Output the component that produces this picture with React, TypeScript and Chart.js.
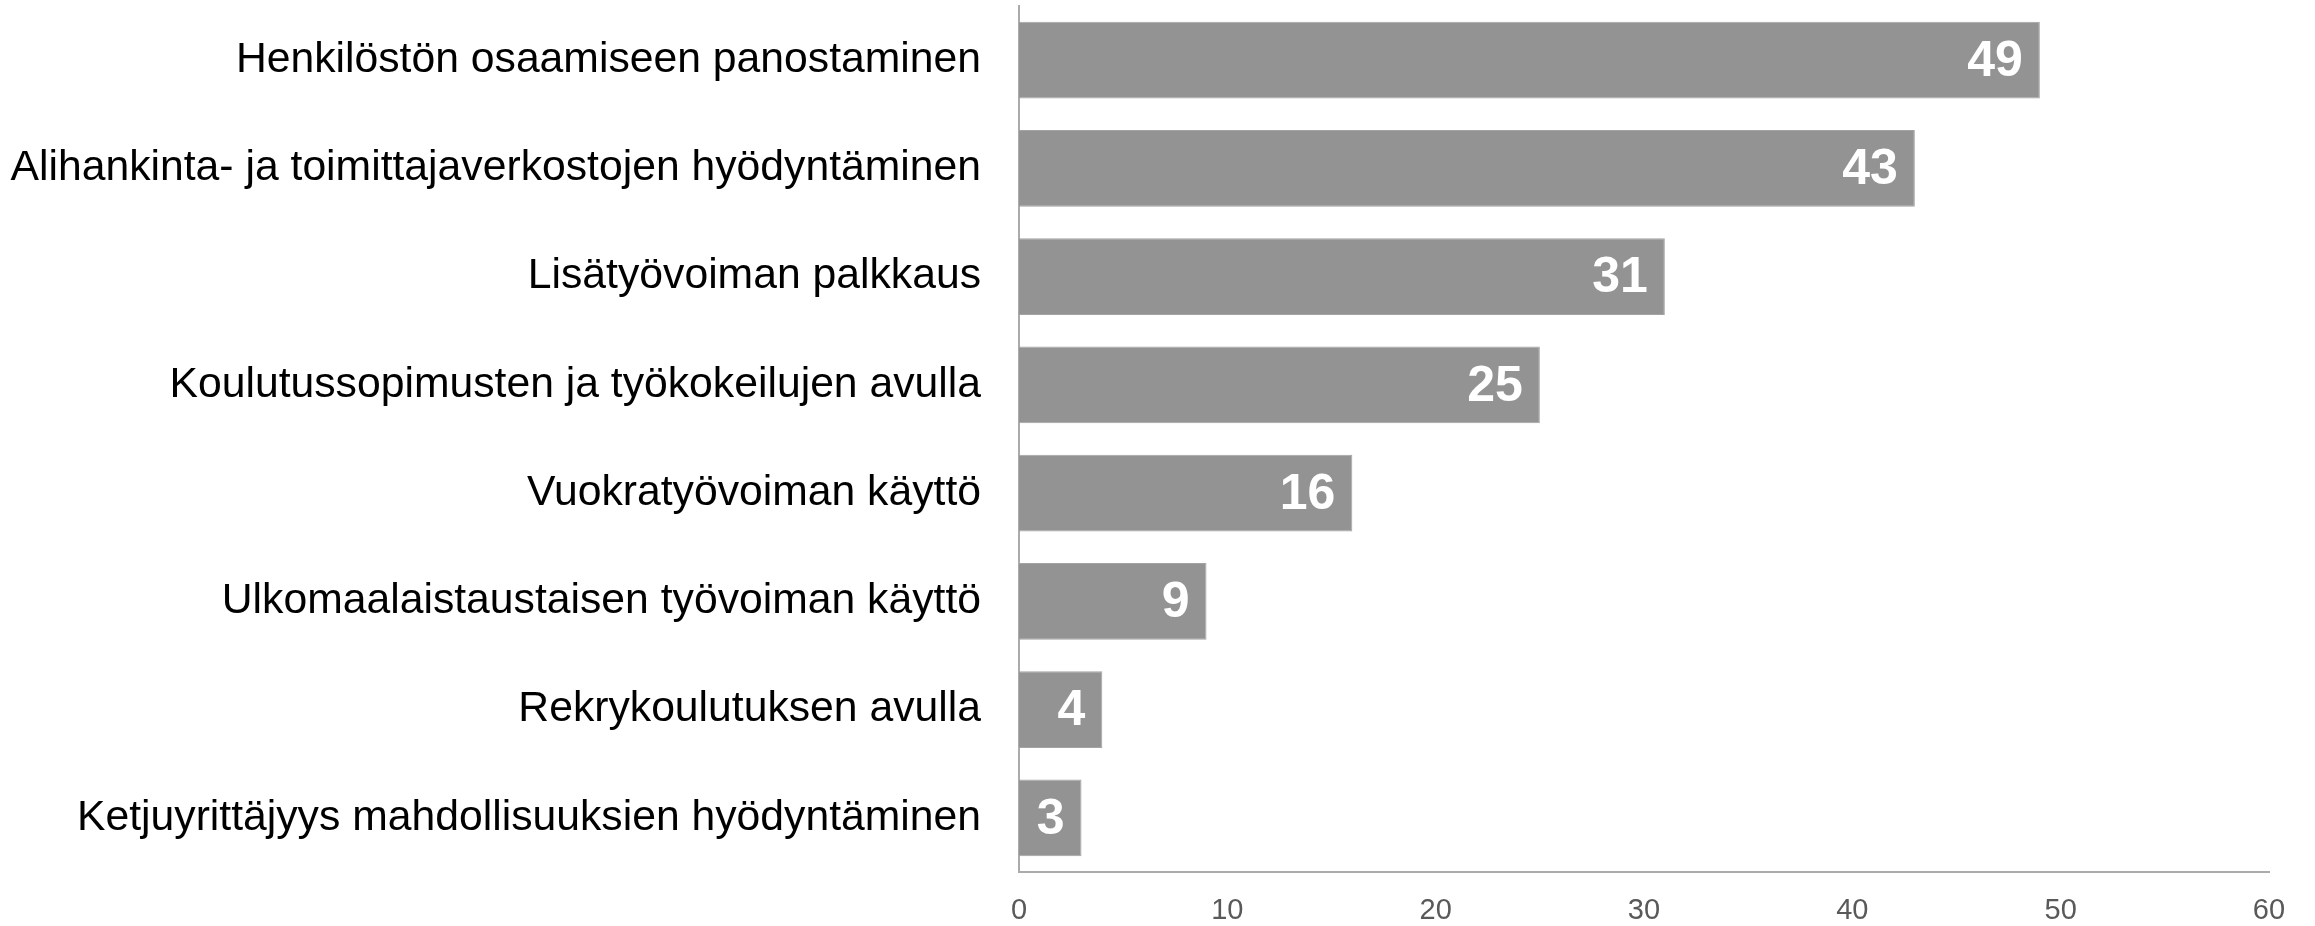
import React, { useEffect, useRef } from "react";
import { Chart, registerables } from "chart.js";

Chart.register(...registerables);

const categories = [
  "Henkilöstön osaamiseen panostaminen",
  "Alihankinta- ja toimittajaverkostojen hyödyntäminen",
  "Lisätyövoiman palkkaus",
  "Koulutussopimusten ja työkokeilujen avulla",
  "Vuokratyövoiman käyttö",
  "Ulkomaalaistaustaisen työvoiman käyttö",
  "Rekrykoulutuksen avulla",
  "Ketjuyrittäjyys mahdollisuuksien hyödyntäminen",
];
const values = [49, 43, 31, 25, 16, 9, 4, 3];
const xMin = 0;
const xMax = 60;
const xStep = 10;

const barLabels = {
  id: "barLabels",
  afterDatasetsDraw(chart: any) {
    const ctx = chart.ctx;
    const meta = chart.getDatasetMeta(0);
    ctx.save();
    ctx.fillStyle = "#ffffff";
    ctx.font = "bold 50px 'Liberation Sans', Arial, sans-serif";
    ctx.textAlign = "right";
    ctx.textBaseline = "middle";
    meta.data.forEach((bar: any, i: number) => {
      ctx.fillText(String(values[i]), bar.x - 17, bar.y + 2);
    });
    ctx.restore();
  },
};

export default function App() {
  const ref = useRef<HTMLCanvasElement>(null);
  useEffect(() => {
    if (!ref.current) return;
    const chart = new Chart(ref.current, {
      type: "bar",
      data: {
        labels: categories,
        datasets: [
          {
            data: values,
            backgroundColor: "#939393",
            borderColor: "#a3a3a3",
            borderWidth: 1,
            barPercentage: 0.707,
            categoryPercentage: 1,
          },
        ],
      },
      options: {
        indexAxis: "y",
        responsive: false,
        animation: false,
        layout: { padding: { top: 6, right: 46, left: 0, bottom: 0 } },
        plugins: { legend: { display: false }, tooltip: { enabled: false } },
        scales: {
          x: {
            min: xMin,
            max: xMax,
            ticks: {
              stepSize: xStep,
              color: "#595959",
              font: { family: "'Liberation Sans', Arial, sans-serif", size: 29 },
              padding: 22,
            },
            grid: { display: false, drawTicks: false },
            border: { display: true, color: "#ababab", width: 2 },
            afterFit: (s: any) => {
              s.height = 54;
              s.paddingLeft = 0;
              s.paddingRight = 0;
            },
          },
          y: {
            ticks: {
              color: "#000000",
              font: { family: "'Liberation Sans', Arial, sans-serif", size: 42.7 },
              padding: 38,
            },
            grid: { display: false, drawTicks: false },
            border: { display: true, color: "#ababab", width: 2 },
            afterFit: (s: any) => {
              s.width = 1019;
              s.paddingTop = 0;
              s.paddingBottom = 0;
            },
          },
        },
      },
      plugins: [barLabels],
    });
    return () => chart.destroy();
  }, []);
  return (
    <div style={{ position: "absolute", left: 0, top: 0, width: 2315, height: 926, background: "#fff" }}>
      <canvas ref={ref} width={2315} height={926} />
    </div>
  );
}
